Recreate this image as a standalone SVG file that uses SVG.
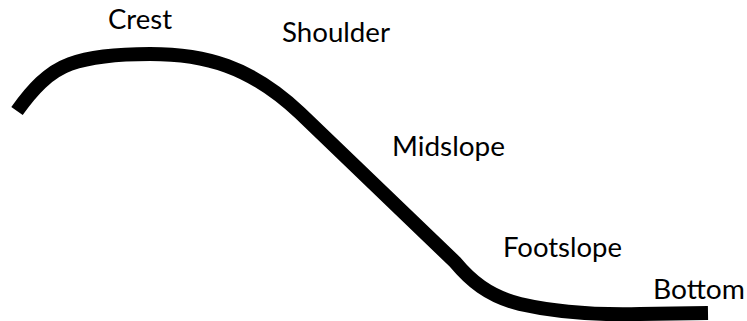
<svg xmlns="http://www.w3.org/2000/svg" width="747" height="321" viewBox="0 0 747 321">
  <style>
    .lbl { font-family: Lato, "Open Sans", "Liberation Sans", sans-serif; font-size: 27px; fill: #000; }
    .slope { fill: none; stroke: #000; stroke-width: 14; stroke-linecap: butt; stroke-linejoin: round; }
  </style>
  <rect x="0" y="0" width="747" height="321" fill="#fff"/>
  <path class="slope" d="M17,111 C32,90 48,72 70,64 C95,55 125,54 150,54 C205,54 250,66 300,113 L455,262 C470,280 488,296 520,304 C555,312 600,315 640,314 L708,313"/>
  <text class="lbl" x="108" y="29" textLength="64" lengthAdjust="spacingAndGlyphs">Crest</text>
  <text class="lbl" x="282" y="42" textLength="108" lengthAdjust="spacingAndGlyphs">Shoulder</text>
  <text class="lbl" x="392" y="156" textLength="113" lengthAdjust="spacingAndGlyphs">Midslope</text>
  <text class="lbl" x="503" y="257" textLength="119" lengthAdjust="spacingAndGlyphs">Footslope</text>
  <text class="lbl" x="653" y="299" textLength="92" lengthAdjust="spacingAndGlyphs">Bottom</text>
</svg>
